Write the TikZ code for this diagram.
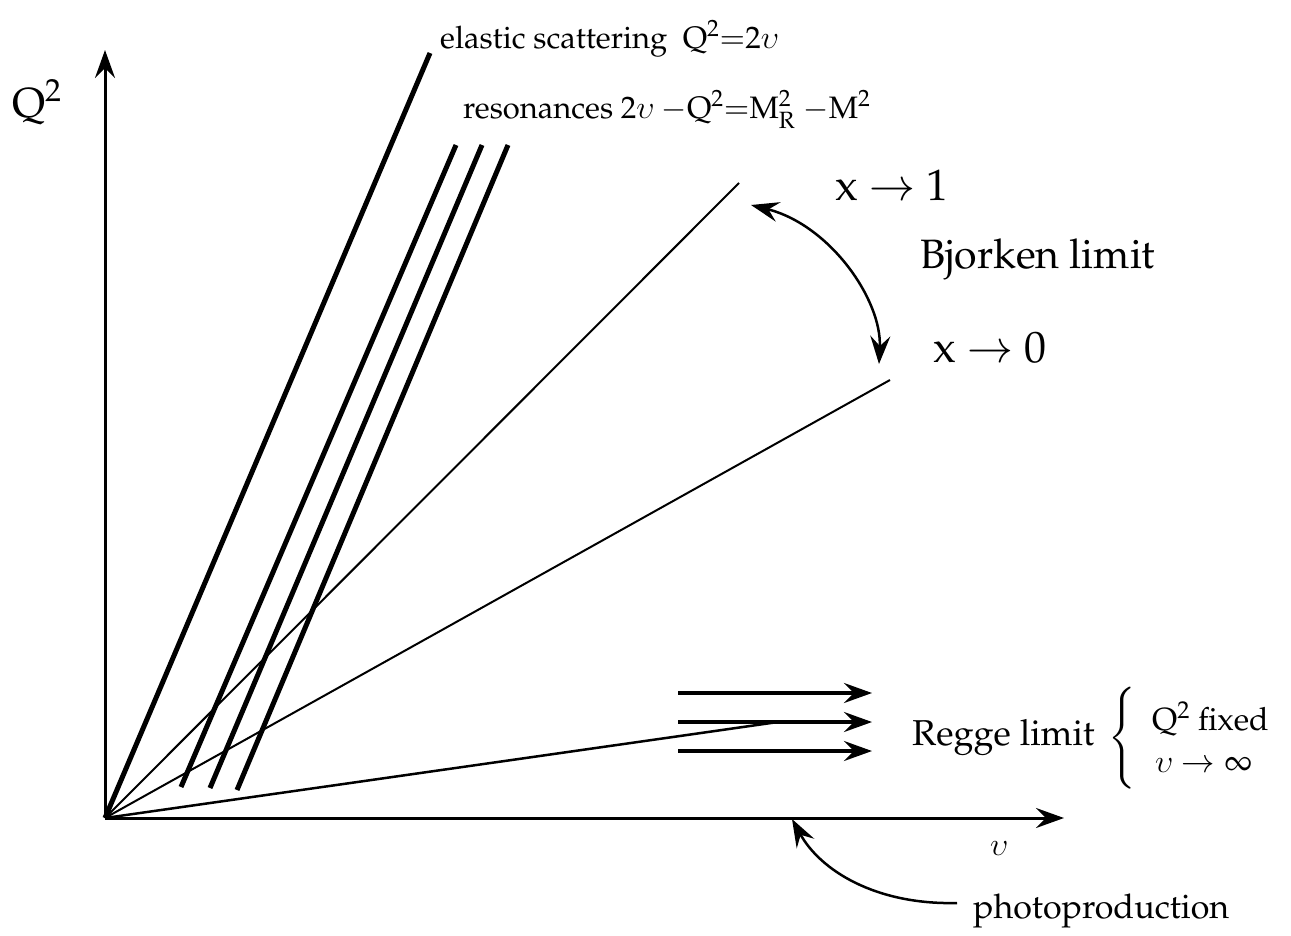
\documentclass[tikz,border=0pt]{standalone}
\usepackage[T1]{fontenc}
\usepackage{mathpazo}
\usepackage{graphicx}
\usetikzlibrary{arrows.meta}
\newcommand\cmups{\mbox{\scalebox{1.3}{\usefont{OML}{lmm}{b}{it}\char"1D}}}
\newcommand\myfs[1]{\fontsize{#1}{#1}\selectfont}
\begin{document}
\begin{tikzpicture}[x=1pt,y=-1pt,
  tip/.tip={Stealth[length=28pt,width=20pt,inset=10pt]},
  axisline/.style={line width=3pt,-tip},
  thickline/.style={line width=5pt},
  thinline/.style={line width=2pt},
  reggearrow/.style={line width=3.5pt,-tip},
  curvearrow/.style={line width=2.5pt},
  lbl/.style={inner sep=0pt,anchor=base west}]
\useasboundingbox (0,0) rectangle (1291,935);
% coordinates
\coordinate (O) at (105,818);
\coordinate (Ytop) at (105,50);
\coordinate (Xend) at (1064,818);
\coordinate (E) at (430,53);
\coordinate (R1a) at (181,787); \coordinate (R1b) at (456,145);
\coordinate (R2a) at (210,788); \coordinate (R2b) at (482,145);
\coordinate (R3a) at (237,790); \coordinate (R3b) at (508,145);
\coordinate (X1) at (739,183);
\coordinate (X0) at (890,380);
\coordinate (Rg) at (778,722);
\coordinate (A1s) at (678,693); \coordinate (A1e) at (872,693);
\coordinate (A2s) at (678,722); \coordinate (A2e) at (872,722);
\coordinate (A3s) at (678,751); \coordinate (A3e) at (872,751);
\coordinate (Bj1) at (751,205); \coordinate (Bj0) at (879,364);
\coordinate (Ph) at (957,903); \coordinate (PhT) at (792,819);
% axes
\draw[axisline] (O) -- (Ytop);
\draw[axisline] (O) -- (Xend);
% lines
\draw[thickline] (O) -- (E);
\draw[thickline] (R1a) -- (R1b);
\draw[thickline] (R2a) -- (R2b);
\draw[thickline] (R3a) -- (R3b);
\draw[thinline] (O) -- (X1);
\draw[thinline] (O) -- (X0);
\draw[line width=2.5pt] (O) -- (Rg);
% Regge arrows
\draw[reggearrow] (A1s) -- (A1e);
\draw[reggearrow] (A2s) -- (A2e);
\draw[reggearrow] (A3s) -- (A3e);
% curved arrows
\draw[curvearrow,tip-tip] (Bj1) .. controls (830,225) and (882,300) .. (Bj0);
\draw[curvearrow,-tip] (Ph) .. controls (875,905) and (820,870) .. (PhT);
% labels
\node[lbl] (lQ) at (12,117) {\myfs{42}$\mathrm{Q}^{2}$};
\node[lbl] (lnu) at (990,855) {\myfs{34}\cmups};
\node[lbl] (lel) at (440,48) {\myfs{31}elastic scattering\ \ $\mathrm{Q}^{2}{=}2\cmups$};
\node[lbl] (lres) at (463,118) {\myfs{31}resonances $2\cmups\ {-}\mathrm{Q}^{2}{=}\mathrm{M}^{2}_{\mathrm{R}}\ {-}\mathrm{M}^{2}$};
\node[lbl] (lx1) at (835,200) {\myfs{44}x $\rightarrow$ 1};
\node[lbl] (lbj) at (920,268) {\myfs{41}Bjorken limit};
\node[lbl] (lx0) at (933,362) {\myfs{44}x $\rightarrow$ 0};
\node[lbl] (lrg) at (912,745) {\myfs{36}Regge limit};
\node[inner sep=0pt] (lbr) at (1122,738) {\myfs{34}$\Bigg\{$};
\node[lbl] (lqf) at (1152,730) {\myfs{32}$\mathrm{Q}^{2}$ fixed};
\node[lbl] (lni) at (1155,772) {\myfs{32}$\cmups\rightarrow\infty$};
\node[lbl] (lph) at (973,918) {\myfs{34}photoproduction};
\end{tikzpicture}
\end{document}
